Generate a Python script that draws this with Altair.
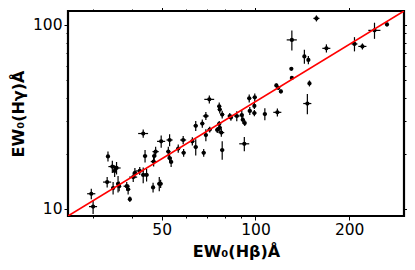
import altair as alt
import pandas as pd

# EW0(Hbeta) values (x), EW0(Hgamma) values (y) and their 1-sigma errors
ew_hb = [29.7, 30.1, 33.6, 33.4, 34.7, 35.3, 35.8, 34.9, 36.2, 36.5,
         38.6, 39.0, 39.5, 40.5, 41.0, 42.5, 43.6, 44.2, 43.6, 44.7,
         46.9, 49.1, 47.1, 47.3, 49.8, 47.8, 49.6, 52.5, 53.0, 53.0,
         53.6, 56.5, 58.6, 58.8, 62.7, 64.3, 68.2, 69.3, 71.3, 64.3,
         67.5, 69.3, 71.1, 76.5, 76.8, 78.2, 76.5, 76.8, 75.4, 78.2,
         77.7, 82.7, 83.4, 87.1, 90.4, 91.1, 92.4, 92.1, 95.5, 99.5,
         95.9, 99.2, 99.2, 107.2, 117.6, 116.7, 118.4, 120.7, 130.9, 130.4,
         149.1, 146.8, 130.9, 143.6, 147.9, 157.0, 169.0, 208.0, 220.6, 241.2,
         264.5]
ew_hg = [12.1, 10.3, 19.3, 14.0, 17.0, 16.1, 16.7, 13.0, 13.7, 13.3,
         13.3, 12.8, 11.3, 14.9, 15.7, 16.1, 25.7, 19.4, 15.3, 15.3,
         13.1, 13.7, 18.1, 19.4, 23.3, 20.5, 13.7, 20.5, 23.7, 18.9,
         18.0, 21.3, 23.7, 20.2, 23.3, 21.7, 20.2, 25.2, 27.0, 28.3,
         29.1, 32.0, 39.4, 36.1, 34.7, 32.6, 29.0, 27.6, 26.9, 20.9,
         26.0, 32.0, 31.4, 32.0, 32.4, 30.5, 29.3, 22.6, 39.9, 40.4,
         34.1, 33.2, 36.3, 32.8, 33.5, 46.9, 45.5, 43.5, 51.5, 57.7,
         48.1, 37.4, 82.9, 67.4, 64.5, 108.5, 74.6, 78.8, 76.4, 93.4,
         100.6]
err_hb = [0.9, 0.9, 0.5, 1.0, 1.0, 0.5, 1.1, 0.5, 0.5, 0.5,
          0.9, 0.6, 0.3, 1.2, 0.6, 1.3, 1.6, 0.7, 0.6, 0.7,
          0.7, 0.7, 1.0, 0.7, 1.5, 1.1, 0.7, 0.8, 1.2, 0.8,
          0.8, 0.8, 1.3, 0.9, 0.9, 1.0, 1.0, 1.0, 1.1, 1.0,
          1.0, 1.5, 2.6, 1.1, 1.1, 1.2, 1.1, 1.1, 1.1, 1.2,
          1.7, 1.2, 1.2, 1.9, 1.3, 1.4, 0.7, 3.4, 1.4, 1.5,
          1.4, 1.5, 0.7, 1.6, 3.5, 0.9, 0.9, 0.9, 1.0, 1.0,
          1.1, 4.4, 4.9, 1.1, 1.1, 3.5, 5.0, 4.6, 6.6, 10.8,
          2.0]
err_hg = [0.8, 0.9, 1.2, 0.9, 1.3, 1.2, 1.3, 1.0, 1.4, 0.8,
          0.7, 0.8, 0.4, 0.9, 1.0, 0.8, 1.3, 1.5, 1.5, 1.2,
          0.8, 1.2, 1.1, 1.2, 1.8, 1.3, 0.7, 1.3, 1.8, 1.0,
          1.1, 1.1, 1.2, 1.0, 1.2, 2.2, 1.0, 1.9, 1.0, 1.8,
          1.5, 1.6, 2.0, 1.8, 1.7, 1.6, 1.1, 1.4, 1.0, 2.4,
          1.3, 1.2, 1.2, 2.0, 2.0, 1.5, 1.1, 2.0, 2.0, 2.0,
          1.7, 1.3, 1.4, 2.5, 1.7, 1.2, 1.1, 1.1, 0.6, 0.7,
          1.8, 4.7, 10.4, 5.9, 3.3, 4.1, 3.8, 7.0, 2.9, 9.4,
          2.5]

# red relation line (drawn across the full plotted range)
line_x = [25, 300]
line_y = [9.16, 119]

x_domain = [25, 300]
y_domain = [9.16, 119]
x_ticks = [30, 40, 50, 60, 70, 80, 90, 100, 200]
x_major = [50, 100, 200]
y_ticks = [10, 20, 30, 40, 50, 60, 70, 80, 90, 100]
y_major = [10, 100]

df = pd.DataFrame({"x": ew_hb, "y": ew_hg, "ex": err_hb, "ey": err_hg})
df["x_lo"] = df["x"] - df["ex"]
df["x_hi"] = df["x"] + df["ex"]
df["y_lo"] = df["y"] - df["ey"]
df["y_hi"] = df["y"] + df["ey"]
line_df = pd.DataFrame({"x": line_x, "y": line_y})

FONT = "DejaVu Sans"
xs = alt.Scale(type="log", domain=x_domain, nice=False)
ys = alt.Scale(type="log", domain=y_domain, nice=False)

x_major_test = " || ".join(f"datum.value == {v}" for v in x_major)
y_major_test = " || ".join(f"datum.value == {v}" for v in y_major)


def axis(vals, test, orient, labels=True, title=None):
    kw = dict(
        values=vals, orient=orient, grid=False, domain=False,
        tickColor="black", tickWidth=1,
        tickSize={"condition": {"test": test, "value": 4}, "value": 2},
        labelFont=FONT, labelFontSize=15.5, labelColor="black", labelPadding=2,
        labels=labels,
    )
    if labels:
        kw["labelExpr"] = f"({test}) ? format(datum.value, 'd') : ''"
    if title is not None:
        kw.update(title=title, titleFont=FONT, titleFontSize=16,
                  titleFontWeight="bold", titleColor="black", titlePadding=6)
    else:
        kw["title"] = None
    return alt.Axis(**kw)


pts = alt.Chart(df).mark_circle(color="black", opacity=1, size=18).encode(
    x=alt.X("x:Q", scale=xs, axis=axis(x_ticks, x_major_test, "bottom", True, "EW₀(Hβ)Å")),
    y=alt.Y("y:Q", scale=ys, axis=axis(y_ticks, y_major_test, "left", True, "EW₀(Hγ)Å")),
)
xerr = alt.Chart(df).mark_rule(color="black", strokeWidth=1.2).encode(
    x=alt.X("x_lo:Q", scale=xs, axis=None), x2="x_hi:Q",
    y=alt.Y("y:Q", scale=ys, axis=None),
)
yerr = alt.Chart(df).mark_rule(color="black", strokeWidth=1.2).encode(
    x=alt.X("x:Q", scale=xs, axis=None),
    y=alt.Y("y_lo:Q", scale=ys, axis=None), y2="y_hi:Q",
)
line = alt.Chart(line_df).mark_line(color="#ff0000", strokeWidth=1.6, clip=True).encode(
    x=alt.X("x:Q", scale=xs, axis=axis(x_ticks, x_major_test, "top", False)),
    y=alt.Y("y:Q", scale=ys, axis=axis(y_ticks, y_major_test, "right", False)),
)

chart = alt.layer(xerr, yerr, pts, line).resolve_axis(
    x="independent", y="independent"
).properties(
    width=336, height=205,
    autosize=alt.AutoSizeParams(type="none"),
    padding={"left": 60, "top": 3, "right": 3, "bottom": 46},
    background="white",
).configure_view(stroke="black", strokeWidth=2.2)

chart.save("out.html", embed_options={"renderer": "svg", "actions": False})
